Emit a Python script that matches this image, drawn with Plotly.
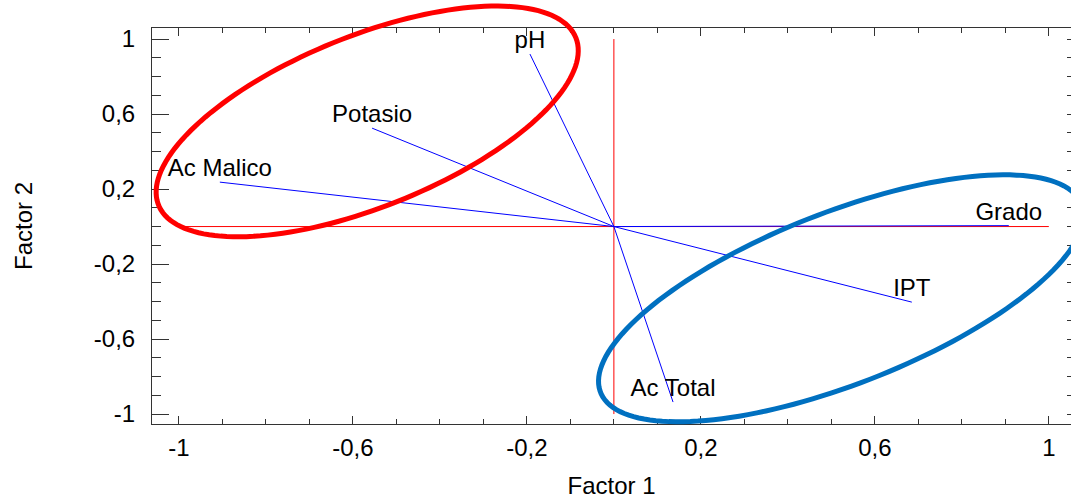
import numpy as np
import plotly.graph_objects as go

# ---- data ----
variables = ["pH", "Potasio", "Ac Malico", "Grado", "IPT", "Ac Total"]
factor1 = [-0.193, -0.556, -0.906, 0.908, 0.685, 0.136]
factor2 = [0.920, 0.525, 0.237, 0.005, -0.403, -0.936]

tick_vals = [-1, -0.6, -0.2, 0.2, 0.6, 1]
tick_text = ["-1", "-0,6", "-0,2", "0,2", "0,6", "1"]

# ---- layout geometry ----
W, H = 1071, 500
ML, MR, MT, MB = 152, 0, 28, 76
PW, PH = W - ML - MR, H - MT - MB
x_range = [-1.062, 1.051]
y_range = [-1.053, 1.059]

FONT = "Liberation Sans, Arial, sans-serif"
FS = 24
AX = "#333333"

# hand-drawn highlight ellipses: centre (px), semi-axes (px), tilt (deg)
RED_ELLIPSE = (367.2, 121.4, 224.8, 85.6, 21.85)
BLUE_ELLIPSE = (841.1, 298.3, 258.3, 85.9, 21.36)

fig = go.Figure()

# loading vectors from the origin
vx, vy = [], []
for a, b in zip(factor1, factor2):
    vx += [0, a, None]
    vy += [0, b, None]
fig.add_trace(go.Scatter(x=vx, y=vy, mode="lines",
                         line=dict(color="#0000FF", width=1),
                         showlegend=False, hoverinfo="skip"))
# variable labels
fig.add_trace(go.Scatter(x=factor1, y=factor2, mode="text", text=variables,
                         textposition="top center",
                         textfont=dict(family=FONT, size=FS, color="black"),
                         showlegend=False, hoverinfo="skip"))
# dummy trace for the right-hand tick axis
fig.add_trace(go.Scatter(x=[None], y=[None], yaxis="y2", showlegend=False,
                         hoverinfo="skip"))

shapes = [
    dict(type="line", xref="x", yref="y", x0=-1, x1=1, y0=0, y1=0,
         line=dict(color="#FF0000", width=1), layer="below"),
    dict(type="line", xref="x", yref="y", x0=0, x1=0, y0=-1, y1=1,
         line=dict(color="#FF0000", width=1), layer="below"),
]


def ellipse_path(cx, cy, a, b, deg, n=160):
    t = np.linspace(0, 2 * np.pi, n)
    th = np.radians(deg)
    px = cx + a * np.cos(t) * np.cos(th) - b * np.sin(t) * np.sin(th)
    py = cy - (a * np.cos(t) * np.sin(th) + b * np.sin(t) * np.cos(th))
    xs = (px - ML) / PW
    ys = (H - MB - py) / PH
    pts = [f"{x:.5f},{y:.5f}" for x, y in zip(xs, ys)]
    return "M" + " L".join(pts) + " Z"


shapes.append(dict(type="path", xref="paper", yref="paper",
                   path=ellipse_path(*RED_ELLIPSE),
                   line=dict(color="#FF0000", width=5), layer="above"))
shapes.append(dict(type="path", xref="paper", yref="paper",
                   path=ellipse_path(*BLUE_ELLIPSE),
                   line=dict(color="#0070C0", width=5), layer="above"))

fig.update_layout(
    width=W, height=H,
    margin=dict(l=ML, r=MR, t=MT, b=MB, pad=0),
    paper_bgcolor="white", plot_bgcolor="white",
    font=dict(family=FONT, size=FS, color="black"),
    shapes=shapes,
    showlegend=False,
    xaxis=dict(
        range=x_range, tickmode="array", tickvals=tick_vals, ticktext=tick_text,
        ticks="inside", ticklen=8, tickcolor=AX, tickwidth=1,
        minor=dict(tickmode="linear", tick0=-1, dtick=0.1, ticks="inside",
                   ticklen=5, tickcolor=AX, tickwidth=1),
        showline=True, linecolor=AX, linewidth=1, mirror="ticks",
        showgrid=False, zeroline=False,
        tickfont=dict(family=FONT, size=FS, color="black"),
        ticklabelstandoff=2,
        title=dict(text="Factor 1", standoff=17,
                   font=dict(family=FONT, size=FS, color="black")),
    ),
    yaxis=dict(
        range=y_range, tickmode="array", tickvals=tick_vals, ticktext=tick_text,
        ticks="inside", ticklen=17, tickcolor=AX, tickwidth=1,
        minor=dict(tickmode="linear", tick0=-1, dtick=0.1, ticks="inside",
                   ticklen=9, tickcolor=AX, tickwidth=1),
        showline=True, linecolor=AX, linewidth=1,
        showgrid=False, zeroline=False,
        tickfont=dict(family=FONT, size=FS, color="black"),
        ticklabelstandoff=11,
        title=dict(text="Factor 2", standoff=54,
                   font=dict(family=FONT, size=FS, color="black")),
    ),
    yaxis2=dict(
        range=y_range, overlaying="y", side="right",
        tickmode="array", tickvals=tick_vals, ticktext=["" for _ in tick_vals],
        ticks="inside", ticklen=12, tickcolor=AX, tickwidth=1,
        minor=dict(tickmode="linear", tick0=-1, dtick=0.1, ticks="inside",
                   ticklen=4, tickcolor=AX, tickwidth=1),
        showline=False, showgrid=False, zeroline=False, showticklabels=False,
    ),
)

fig.write_html("out.html")
